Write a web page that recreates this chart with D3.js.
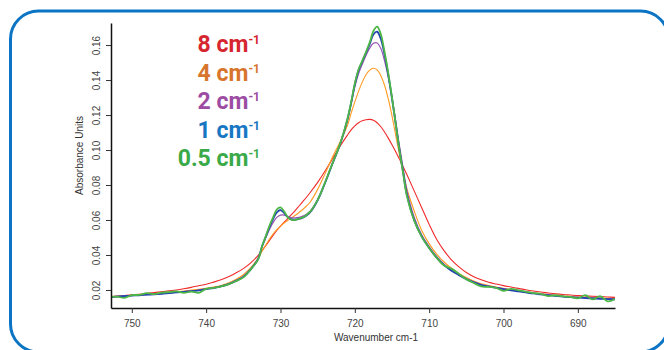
<!DOCTYPE html>
<html>
<head>
<meta charset="utf-8">
<script src="https://cdn.jsdelivr.net/npm/d3@7"></script>
<style>
  html, body { margin: 0; padding: 0; background: #fff; }
  svg { display: block; }
</style>
</head>
<body>
<div id="chart"></div>
<script>
// wavenumber grid (cm-1), shared by all traces
var wavenumbers = [753,752,751,750,749,748,747,746,745,744,743,742,741,740,739,738,737,736,735,734,733,
  732.5,732,731.5,731,730.5,730,729.5,729,728.5,728,727.5,727,726.5,726,
  725,724,723,722,721,
  720.5,720,719.5,719,718.5,718,717.5,717,716.5,716,715.5,715,714.5,714,713.5,713,
  712,711,710,709,708,707,706,705,704,703,702,701,700,699,698,697,696,695,694,693,692,691,690,689,688,687,686,685];

var res8 = [0.0162,0.0165,0.0168,0.0172,0.0176,0.0180,0.0185,0.0190,0.0195,0.0200,0.0207,0.0215,0.0224,0.0233,0.0245,0.0258,0.0275,0.0297,0.0322,0.0355,0.0398,
  0.0425,0.0452,0.0482,0.0512,0.0540,0.0565,0.0588,0.0610,0.0632,0.0655,0.0680,0.0705,0.0730,0.0757,
  0.0815,0.0880,0.0950,0.1020,0.1085,
  0.1115,0.1138,0.1156,0.1167,0.1173,0.1175,0.1170,0.1156,0.1133,0.1103,0.1068,0.1030,0.0990,0.0948,0.0905,0.0860,
  0.0765,0.0670,0.0575,0.0490,0.0425,0.0372,0.0332,0.0300,0.0276,0.0258,0.0244,0.0234,0.0225,0.0217,0.0209,0.0201,0.0194,0.0188,0.0183,0.0178,0.0174,0.0171,0.0168,0.0166,0.0164,0.0162,0.0160,0.0158];

var res4 = [0.0161,0.0163,0.0166,0.0169,0.0172,0.0175,0.0178,0.0182,0.0186,0.0190,0.0194,0.0199,0.0204,0.0210,0.0217,0.0226,0.0240,0.0260,0.0287,0.0328,0.0383,
  0.0420,0.0455,0.0490,0.0520,0.0545,0.0565,0.0583,0.0598,0.0612,0.0627,0.0643,0.0660,0.0680,0.0703,
  0.0775,0.0865,0.0960,0.1045,0.1140,
  0.1210,0.1275,0.1335,0.1388,0.1430,0.1457,0.1467,0.1458,0.1425,0.1370,0.1292,0.1195,0.1085,0.0975,0.0872,0.0780,
  0.0650,0.0540,0.0465,0.0405,0.0360,0.0324,0.0295,0.0271,0.0251,0.0236,0.0226,0.0217,0.0209,0.0202,0.0196,0.0190,0.0184,0.0179,0.0174,0.0170,0.0166,0.0163,0.0160,0.0158,0.0156,0.0154,0.0152,0.0150];

var res2 = [0.0160,0.0163,0.0166,0.0169,0.0171,0.0174,0.0176,0.0179,0.0183,0.0187,0.0191,0.0194,0.0199,0.0206,0.0212,0.0221,0.0234,0.0253,0.0277,0.0320,0.0380,
  0.0445,0.0497,0.0545,0.0585,0.0615,0.0628,0.0628,0.0620,0.0613,0.0612,0.0615,0.0622,0.0633,0.0650,
  0.0715,0.0812,0.0922,0.1032,0.1170,
  0.1262,0.1360,0.1435,0.1490,0.1540,0.1582,0.1610,0.1612,0.1580,0.1510,0.1415,0.1300,0.1165,0.1025,0.0895,0.0770,
  0.0615,0.0515,0.0448,0.0392,0.0348,0.0314,0.0288,0.0265,0.0246,0.0231,0.0222,0.0214,0.0207,0.0200,0.0194,0.0188,0.0182,0.0177,0.0172,0.0168,0.0164,0.0161,0.0158,0.0156,0.0154,0.0152,0.0150,0.0148];

var res1 = [0.0159,0.0162,0.0165,0.0168,0.0170,0.0173,0.0175,0.0178,0.0182,0.0186,0.0189,0.0193,0.0198,0.0205,0.0211,0.0220,0.0233,0.0252,0.0275,0.0318,0.0378,
  0.0447,0.0502,0.0557,0.0605,0.0643,0.0657,0.0640,0.0615,0.0604,0.0602,0.0606,0.0613,0.0626,0.0645,
  0.0713,0.0813,0.0923,0.1030,0.1173,
  0.1268,0.1375,0.1455,0.1505,0.1555,0.1605,0.1660,0.1676,0.1635,0.1545,0.1430,0.1295,0.1150,0.1002,0.0872,0.0745,
  0.0598,0.0505,0.0440,0.0385,0.0342,0.0310,0.0285,0.0262,0.0243,0.0228,0.0220,0.0212,0.0205,0.0198,0.0192,0.0186,0.0180,0.0175,0.0170,0.0166,0.0162,0.0159,0.0156,0.0154,0.0152,0.0150,0.0148,0.0146];

var res05 = [0.0160,0.0162,0.0155,0.0170,0.0172,0.0182,0.0176,0.0185,0.0188,0.0192,0.0183,0.0191,0.0184,0.0206,0.0212,0.0220,0.0232,0.0250,0.0272,0.0318,0.0375,
  0.0447,0.0505,0.0565,0.0615,0.0660,0.0672,0.0648,0.0615,0.0600,0.0600,0.0607,0.0615,0.0629,0.0648,
  0.0715,0.0815,0.0925,0.1032,0.1176,
  0.1272,0.1380,0.1460,0.1510,0.1560,0.1615,0.1680,0.1705,0.1662,0.1560,0.1440,0.1300,0.1150,0.1000,0.0868,0.0738,
  0.0595,0.0505,0.0440,0.0385,0.0340,0.0322,0.0292,0.0262,0.0240,0.0220,0.0218,0.0212,0.0195,0.0206,0.0198,0.0190,0.0182,0.0178,0.0165,0.0170,0.0163,0.0160,0.0152,0.0170,0.0146,0.0165,0.0135,0.0148];

var legendLabels = ['8', '4', '2', '1', '0.5'];
var xTicks = [750, 740, 730, 720, 710, 700, 690];
var yTicks = [0.02, 0.04, 0.06, 0.08, 0.10, 0.12, 0.14, 0.16];

var WIDTH = 664,
    HEIGHT = 350,
    margin = { left: 111, right: 49, top: 23, bottom: 42 },
    series = [
      { values: res8,  line: '#f02a2a', text: '#d6262f', width: 1.1 },
      { values: res4,  line: '#ff9a22', text: '#d8752c', width: 1.1 },
      { values: res2,  line: '#9a55b4', text: '#9c4ca2', width: 1.2 },
      { values: res1,  line: '#2244b0', text: '#1877c3', width: 1.8 },
      { values: res05, line: '#4cb646', text: '#3aa948', width: 1.8 }
    ];

var svg = d3.select('#chart')
  .append('svg')
  .attr('width', WIDTH)
  .attr('height', HEIGHT);

// rounded blue frame
svg.append('rect')
  .attr('x', 10.5)
  .attr('y', 11)
  .attr('width', 658)
  .attr('height', 341)
  .attr('rx', 28)
  .attr('ry', 28)
  .attr('fill', 'none')
  .attr('stroke', '#0b74c4')
  .attr('stroke-width', 3);

var x = d3.scaleLinear()
  .domain([752.8, 685])
  .range([margin.left, WIDTH - margin.right]);

var y = d3.scaleLinear()
  .domain([0.0097, 0.1726])
  .range([HEIGHT - margin.bottom, margin.top]);

svg.append('clipPath')
  .attr('id', 'plot-clip')
  .append('rect')
  .attr('x', margin.left)
  .attr('y', margin.top - 5)
  .attr('width', WIDTH - margin.right - margin.left)
  .attr('height', HEIGHT - margin.bottom - margin.top + 5);

var line = d3.line()
  .x(function(d) { return x(d[0]); })
  .y(function(d) { return y(d[1]); })
  .curve(d3.curveCatmullRom.alpha(0.5));

svg.append('g')
  .attr('clip-path', 'url(#plot-clip)')
  .selectAll('path.trace')
  .data(series)
  .enter()
  .append('path')
  .attr('class', 'trace')
  .attr('fill', 'none')
  .attr('stroke', function(d) { return d.line; })
  .attr('stroke-width', function(d) { return d.width; })
  .attr('stroke-linejoin', 'round')
  .attr('d', function(d) { return line(d3.zip(wavenumbers, d.values)); });

// axes
var xAxis = svg.append('g')
  .attr('transform', 'translate(0,' + (HEIGHT - margin.bottom) + ')')
  .call(d3.axisBottom(x).tickValues(xTicks).tickSize(5).tickSizeOuter(0).tickFormat(d3.format('d')));

var yAxis = svg.append('g')
  .attr('transform', 'translate(' + margin.left + ',0)')
  .call(d3.axisLeft(y).tickValues(yTicks).tickSize(5).tickSizeOuter(0).tickFormat(d3.format('.2f')));

[xAxis, yAxis].forEach(function(g) {
  g.select('.domain').attr('stroke', '#111').attr('stroke-width', 1.5);
  g.selectAll('.tick line').attr('stroke', '#333');
  g.selectAll('.tick text')
    .attr('fill', '#444')
    .style('font-family', '"Liberation Sans", Arial, sans-serif')
    .style('font-size', '10px');
});

xAxis.selectAll('.tick text').attr('y', 12);

yAxis.selectAll('.tick text')
  .attr('x', null)
  .attr('dy', null)
  .attr('text-anchor', 'middle')
  .attr('transform', 'translate(-11,0) rotate(-90)');

svg.append('text')
  .attr('transform', 'translate(83,155.5) rotate(-90)')
  .attr('text-anchor', 'middle')
  .attr('fill', '#333')
  .style('font-family', '"Liberation Sans", Arial, sans-serif')
  .style('font-size', '10px')
  .text('Absorbance Units');

svg.append('text')
  .attr('x', 376)
  .attr('y', 341)
  .attr('text-anchor', 'middle')
  .attr('fill', '#333')
  .style('font-family', '"Liberation Sans", Arial, sans-serif')
  .style('font-size', '10px')
  .text('Wavenumber cm-1');

// resolution legend
var legend = svg.selectAll('text.res')
  .data(legendLabels)
  .enter()
  .append('text')
  .attr('class', 'res')
  .attr('x', 260)
  .attr('y', function(d, i) { return 52 + i * 28.5; })
  .attr('text-anchor', 'end')
  .attr('fill', function(d, i) { return series[i].text; })
  .style('font-family', 'Roboto, "Open Sans", sans-serif')
  .style('font-weight', 700)
  .style('font-size', '23px');

legend.append('tspan').text(function(d) { return d + ' cm'; });
legend.append('tspan')
  .attr('dy', -8)
  .style('font-size', '12px')
  .text('-1');
</script>
</body>
</html>
